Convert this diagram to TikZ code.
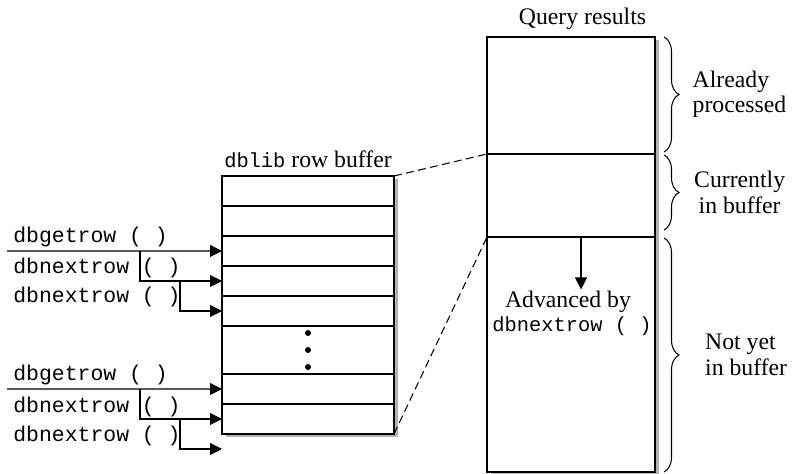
\documentclass[tikz,border=0pt]{standalone}
\usepackage{fontspec}
\setmainfont{Liberation Serif}
\setmonofont{Liberation Mono}
\usepackage{tikz}
\usetikzlibrary{positioning}
\usetikzlibrary{calc}
\usetikzlibrary{arrows.meta}
\usetikzlibrary{shadows}
\usetikzlibrary{decorations.pathreplacing}

\newcommand{\codefont}{\fontsize{11.6}{13}\selectfont\ttfamily}

\tikzset{
    cell/.style={draw, fill=white, line width=0.6pt, minimum width=3.44cm, minimum height=0.6cm, inner sep=0pt, outer sep=0pt,
        drop shadow={shadow xshift=0.07cm, shadow yshift=-0.07cm, fill=black!30, opacity=1}},
    qcell/.style={cell, minimum width=3.36cm},
    arr/.style={line width=0.6pt, -{Triangle[length=0.24cm, width=0.24cm]}},
    dashline/.style={line width=0.6pt, dash pattern=on 4.5pt off 2.5pt},
    brc/.style={decorate, decoration={brace, amplitude=0.3cm}, line width=0.6pt},
    txt/.style={font=\fontsize{13.5}{14.5}\selectfont},
    code/.style={font=\codefont, inner sep=0pt},
    call/.style={code, font=\fontsize{12.2}{13}\selectfont\ttfamily, anchor=base west},
}

\begin{document}
\begin{tikzpicture}
    \useasboundingbox (0,0) rectangle (15.86,9.48);

    % row buffer
    \node [cell] (r1) at (6.16,5.66) {};
    \node [cell, below=0cm of r1] (r2) {};
    \node [cell, below=0cm of r2] (r3) {};
    \node [cell, below=0cm of r3] (r4) {};
    \node [cell, below=0cm of r4] (r5) {};
    \node [cell, minimum height=0.96cm, below=0cm of r5] (gap) {};
    \node [cell, below=0cm of gap] (r6) {};
    \node [cell, below=0cm of r6] (r7) {};

    \node [txt, above=0.04cm of r1] (buflabel) {{\codefont dblib} row buffer};

    \fill ([yshift=0.34cm]gap.center) circle (0.06);
    \fill (gap.center) circle (0.06);
    \fill ([yshift=-0.34cm]gap.center) circle (0.06);

    % query results
    \node [qcell, minimum height=2.34cm] (q1) at (11.42,7.57) {};
    \node [qcell, minimum height=1.66cm, below=0cm of q1] (q2) {};
    \node [qcell, minimum height=4.70cm, below=0cm of q2] (q3) {};

    \node [txt, anchor=base] (qlabel) at (11.65,8.98) {Query results};

    \draw [dashline] (r1.north east) -- (q2.north west);
    \draw [dashline] (r7.south east) -- (q3.north west);

    \node [txt, anchor=base, inner sep=1pt] (adv) at (11.36,3.32) {Advanced by};
    \node [code, anchor=base] (advcode) at (11.44,2.84) {dbnextrow ( )};
    \coordinate (advtop) at (11.62,4.74);
    \draw [arr] (advtop) -- (advtop |- adv.north);

    % calls
    \node [call] (lbl1) at (0.26,4.62) {dbgetrow ( )};
    \node [call] (lbl2) at (0.26,4.00) {dbnextrow ( )};
    \node [call] (lbl3) at (0.26,3.42) {dbnextrow ( )};
    \node [call] (lbl4) at (0.26,1.86) {dbgetrow ( )};
    \node [call] (lbl5) at (0.26,1.22) {dbnextrow ( )};
    \node [call] (lbl6) at (0.26,0.64) {dbnextrow ( )};

    \coordinate (g1) at (0.14,4.46);
    \coordinate (k1) at (2.80,4.46);
    \coordinate (k2) at (3.60,3.86);
    \draw [arr] (g1) -- (r3.west);
    \draw [arr] (k1) |- (r4.west);
    \draw [arr] (k2) |- (r5.west);

    \coordinate (g2) at (0.14,1.70);
    \coordinate (k3) at (2.80,1.70);
    \coordinate (k4) at (3.60,1.10);
    \coordinate (e) at ([yshift=-0.3cm]r7.south west);
    \draw [arr] (g2) -- (r6.west);
    \draw [arr] (k3) |- (r7.west);
    \draw [arr] (k4) |- (e);

    % braces
    \coordinate (b1t) at (13.28,8.74);
    \coordinate (b1b) at (13.28,6.44);
    \coordinate (b2t) at (13.28,6.38);
    \coordinate (b2b) at (13.28,4.88);
    \coordinate (b3t) at (13.28,4.72);
    \coordinate (b3b) at (13.28,0.04);
    \draw [brc] (b1t) -- (b1b);
    \draw [brc] (b2t) -- (b2b);
    \draw [brc] (b3t) -- (b3b);

    \coordinate (b1m) at ($(b1t)!0.5!(b1b)+(0.3,0)$);
    \coordinate (b2m) at ($(b2t)!0.5!(b2b)+(0.3,0)$);
    \coordinate (b3m) at ($(b3t)!0.5!(b3b)+(0.3,0)$);
    \node [txt, align=left, right=0.15cm of b1m] (already) {Already\\processed};
    \node [txt, align=center, right=0.18cm of b2m] (current) {Currently\\in buffer};
    \node [txt, align=left, right=0.4cm of b3m] (notyet) {Not yet\\in buffer};

\end{tikzpicture}
\end{document}
